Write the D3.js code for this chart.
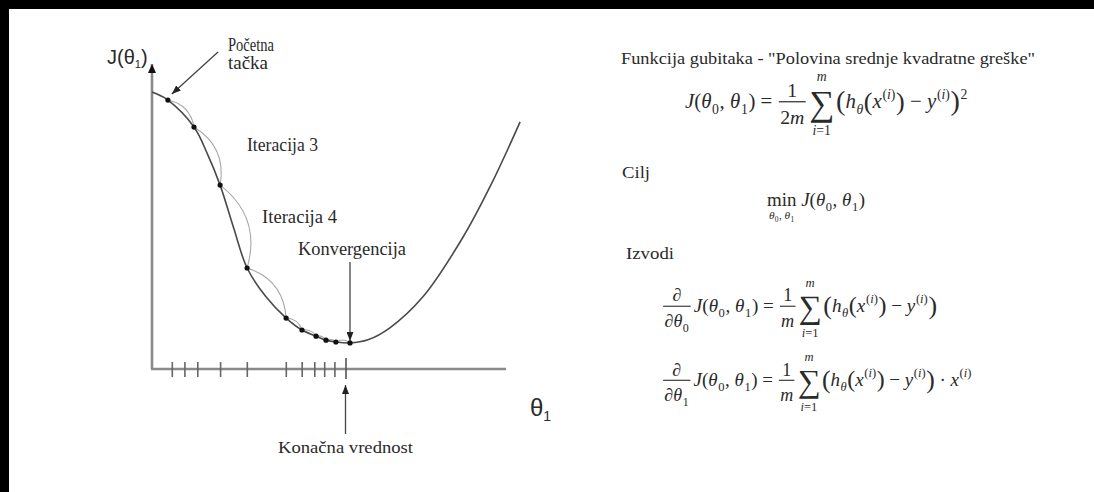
<!DOCTYPE html>
<html>
<head>
<meta charset="utf-8">
<script src="https://cdn.jsdelivr.net/npm/d3@7"></script>
<style>
  html, body { margin: 0; padding: 0; background: #000; }
  svg { display: block; font-family: "Liberation Serif", "Times New Roman", "DejaVu Serif", serif; }
  text { fill: #2a2a2a; white-space: pre; }
</style>
</head>
<body>
<svg id="chart" width="1094" height="492"></svg>
<script>
// Cost curve J(θ1), sampled along θ1
const curveTheta = [0, 0.53, 1.4, 1.85, 2.27, 2.72, 3.17, 3.8, 4.47, 5.0, 5.47, 5.8, 6.13, 6.6, 7.2, 7.93, 9.03, 10.37, 11.33, 12.27];
const curveCost  = [9.02, 8.76, 7.88, 7.0, 5.99, 4.6, 3.29, 2.35, 1.66, 1.27, 1.07, 0.94, 0.88, 0.85, 0.95, 1.34, 2.35, 4.3, 6.06, 8.05];

// Gradient descent iterates
const stepTheta = [0.53, 1.4, 2.27, 3.17, 4.47, 5.0, 5.47, 5.8, 6.13, 6.6];
const stepCost  = [8.76, 7.88, 5.99, 3.29, 1.66, 1.27, 1.07, 0.94, 0.88, 0.85];

// Marks on the θ1 axis, one per iterate; the last is the final value
const tickTheta = [0.66, 1.08, 1.51, 2.27, 3.16, 4.46, 4.99, 5.41, 5.74, 6.08];
const finalTheta = 6.45;

// Annotations
const labelStart = ["Početna", "tačka"];
const labelIter = ["Iteracija 3", "Iteracija 4"];
const labelConv = "Konvergencija";
const labelFinal = "Konačna vrednost";

const SERIF = "'Liberation Serif', 'Times New Roman', serif";
const SANS = "'Liberation Sans', Arial, sans-serif";

const svg = d3.select("#chart");
svg.append("rect").attr("x", 9).attr("y", 9).attr("width", 1094).attr("height", 492).attr("fill", "#fff");

const x = d3.scaleLinear().domain([0, 12]).range([152, 512]);
const y = d3.scaleLinear().domain([0, 10]).range([369, 62]);

const defs = svg.append("defs");
function marker(id, color, w, h) {
  defs.append("marker").attr("id", id)
    .attr("viewBox", `0 0 ${w} ${h}`).attr("refX", w).attr("refY", h / 2)
    .attr("markerWidth", w).attr("markerHeight", h).attr("markerUnits", "userSpaceOnUse")
    .attr("orient", "auto")
    .append("path").attr("d", `M0,0L${w},${h / 2}L0,${h}Z`).attr("fill", color);
}
marker("ah", "#222", 9, 7);
marker("ahAxis", "#111", 9, 8);

const plot = svg.append("g");

// axes
plot.append("line").attr("x1", x(0)).attr("y1", y(0)).attr("x2", x(0)).attr("y2", 64)
  .attr("stroke", "#8a8a8a").attr("stroke-width", 2.6).attr("marker-end", "url(#ahAxis)");
plot.append("line").attr("x1", x(0) - 1).attr("y1", y(0)).attr("x2", x(11.8)).attr("y2", y(0))
  .attr("stroke", "#8a8a8a").attr("stroke-width", 2.6);

// iteration ticks along θ1
const tickAxis = d3.axisBottom(x).tickValues(tickTheta).tickSize(15).tickFormat("");
const tg = plot.append("g").attr("transform", `translate(0,${y(0) - 7})`).call(tickAxis);
tg.select(".domain").remove();
tg.selectAll(".tick line").attr("stroke", "#666").attr("stroke-width", 1.6);

const finalAxis = d3.axisBottom(x).tickValues([finalTheta]).tickSize(21).tickFormat("");
const fg = plot.append("g").attr("transform", `translate(0,${y(0) - 11})`).call(finalAxis);
fg.select(".domain").remove();
fg.selectAll(".tick line").attr("stroke", "#555").attr("stroke-width", 1.6);

// step arcs between successive iterates
const steps = stepTheta.map((t, i) => [x(t), y(stepCost[i])]);
const arcs = [];
for (let i = 0; i < steps.length - 1; i++) {
  const [x0, y0] = steps[i], [x1, y1] = steps[i + 1];
  const dx = x1 - x0, dy = y1 - y0, L = Math.hypot(dx, dy);
  const b = 0.17 * L;
  const cx = (x0 + x1) / 2 + dy / L * 2 * b, cy = (y0 + y1) / 2 - dx / L * 2 * b;
  arcs.push(`M${x0},${y0}Q${cx},${cy} ${x1},${y1}`);
}
plot.selectAll("path.arc").data(arcs).join("path").attr("class", "arc")
  .attr("d", d => d).attr("fill", "none").attr("stroke", "#a8a8a8").attr("stroke-width", 1.1);

// cost curve
const line = d3.line().x(d => x(d[0])).y(d => y(d[1])).curve(d3.curveCatmullRom.alpha(0.5));
plot.append("path").datum(curveTheta.map((t, i) => [t, curveCost[i]]))
  .attr("d", line).attr("fill", "none").attr("stroke", "#4a4a4a").attr("stroke-width", 1.6);

// iterates
plot.selectAll("circle.step").data(steps).join("circle").attr("class", "step")
  .attr("cx", d => d[0]).attr("cy", d => d[1]).attr("r", 2.6).attr("fill", "#111");

// annotation arrows
function arrow(x1, y1, x2, y2) {
  plot.append("line").attr("x1", x1).attr("y1", y1).attr("x2", x2).attr("y2", y2)
    .attr("stroke", "#444").attr("stroke-width", 1.3).attr("marker-end", "url(#ah)");
}
arrow(218, 52, x(stepTheta[0]) + 4, y(stepCost[0]) - 6);
const last = stepTheta.length - 1;
arrow(x(stepTheta[last]), 262, x(stepTheta[last]), y(stepCost[last]) - 2);
arrow(x(finalTheta), 434, x(finalTheta), 385);

// labels
function label(s, x0, base, size, width) {
  const t = plot.append("text").attr("x", x0).attr("y", base)
    .attr("font-family", SERIF).attr("font-size", size).text(s);
  if (width) t.attr("textLength", width).attr("lengthAdjust", "spacingAndGlyphs");
  return t;
}
label(labelStart[0], 228, 51, 18, 46);
label(labelStart[1], 228, 69, 18, 40);
label(labelIter[0], 247, 151, 18, 71);
label(labelIter[1], 262, 223, 18, 75);
label(labelConv, 298, 255, 18.5, 108);
label(labelFinal, 278, 453, 17, 135);

// axis titles
const jt = plot.append("text").attr("x", 107).attr("y", 64).attr("font-family", SANS).attr("font-size", 20);
jt.append("tspan").text("J(θ");
jt.append("tspan").attr("font-size", 11).attr("dy", 4).text("1");
jt.append("tspan").attr("dy", -4).text(")");
const tt = plot.append("text").attr("x", 530).attr("y", 416).attr("font-family", SANS).attr("font-size", 24);
tt.append("tspan").text("θ");
tt.append("tspan").attr("font-size", 14).attr("dy", 5).text("1");

// ---------- formulas panel ----------
const panel = svg.append("g").attr("font-family", SERIF);

panel.append("text").attr("x", 621).attr("y", 64).attr("font-size", 17)
  .attr("textLength", 414).attr("lengthAdjust", "spacingAndGlyphs")
  .text('Funkcija gubitaka - "Polovina srednje kvadratne greške"');
panel.append("text").attr("x", 622).attr("y", 178).attr("font-size", 16.5)
  .attr("textLength", 28).attr("lengthAdjust", "spacingAndGlyphs").text("Cilj");
panel.append("text").attr("x", 626).attr("y", 259).attr("font-size", 16.5)
  .attr("textLength", 48).attr("lengthAdjust", "spacingAndGlyphs").text("Izvodi");

// tiny math layout: items are [kind, ...]
function word(g, s, fs, italic) {
  const t = g.append("text").attr("x", 0).attr("y", 0).attr("font-size", fs)
    .attr("font-style", italic ? "italic" : "normal").text(s);
  return t.node().getComputedTextLength();
}
function row(g, items, fs) {
  let cx = 0;
  for (const it of items) {
    const sub = g.append("g").attr("transform", `translate(${cx},0)`);
    cx += cell(sub, it, fs);
  }
  return cx;
}
function cell(g, it, fs) {
  const k = it[0];
  if (k === "i" || k === "n") return word(g, it[1], fs, k === "i");
  if (k === "sp") return it[1] * fs;
  if (k === "big") {
    const s = fs * it[2];
    const t = g.append("text").attr("y", fs * (it[2] - 1) * 0.3).attr("font-size", s).text(it[1]);
    return t.node().getComputedTextLength();
  }
  if (k === "sub" || k === "sup") {
    const gg = g.append("g").attr("transform", `translate(${fs * 0.03},${k === "sub" ? fs * 0.28 : -fs * 0.45})`);
    return row(gg, it[1], fs * 0.66) + fs * 0.06;
  }
  if (k === "frac") {
    const s = fs * 0.95;
    const gn = g.append("g"), gd = g.append("g");
    const wn = row(gn, it[1], s), wd = row(gd, it[2], s);
    const w = Math.max(wn, wd) + fs * 0.25;
    gn.attr("transform", `translate(${(w - wn) / 2},${-fs * 0.55})`);
    gd.attr("transform", `translate(${(w - wd) / 2},${fs * 0.78})`);
    g.append("line").attr("x1", fs * 0.06).attr("x2", w - fs * 0.06)
      .attr("y1", -fs * 0.3).attr("y2", -fs * 0.3).attr("stroke", "#333").attr("stroke-width", 0.9);
    return w + fs * 0.1;
  }
  if (k === "sum") {
    const sg = g.append("text").attr("y", fs * 0.32).attr("font-size", fs * 1.7).text("∑");
    const w = sg.node().getComputedTextLength();
    if (it[1]) {
      const gt = g.append("g");
      const wt = row(gt, it[1], fs * 0.66);
      gt.attr("transform", `translate(${(w - wt) / 2},${-fs * 1.3})`);
    }
    const gb = g.append("g");
    const wb = row(gb, it[2], fs * 0.66);
    gb.attr("transform", `translate(${(w - wb) / 2},${fs * 1.3})`);
    return w + fs * 0.08;
  }
  if (k === "under") {
    const gt = g.append("g"), gb = g.append("g");
    const wt = row(gt, it[1], fs), wb = row(gb, it[2], fs * 0.6);
    const w = Math.max(wt, wb);
    gt.attr("transform", `translate(${(w - wt) / 2},0)`);
    gb.attr("transform", `translate(${(w - wb) / 2},${fs * 0.7})`);
    return w + fs * 0.25;
  }
  return 0;
}
function formula(items, fs, left, base, width) {
  const g = panel.append("g");
  const inner = g.append("g");
  const w = row(inner, items, fs);
  const k = width / w;
  g.attr("transform", `translate(${left},${base}) scale(${k})`);
  return g;
}

const th = (n) => [["i", "θ"], ["sub", [["n", n]]]];
const Jargs = [["i", "J"], ["n", "("], ...th("0"), ["n", ", "], ...th("1"), ["n", ")"]];
const sup_i = ["sup", [["n", "("], ["i", "i"], ["n", ")"]]];
const hx = [["i", "h"], ["sub", [["i", "θ"]]], ["big", "(", 1.25], ["i", "x"], sup_i, ["big", ")", 1.25],
  ["n", " − "], ["i", "y"], sup_i];
const sumM = ["sum", [["i", "m"]], [["i", "i"], ["n", "=1"]]];

formula([...Jargs, ["n", " = "], ["frac", [["n", "1"]], [["n", "2"], ["i", "m"]]], sumM,
  ["big", "(", 1.35], ...hx, ["big", ")", 1.35], ["sup", [["n", "2"]]]], 15, 685, 108, 283);

formula([["under", [["n", "min"]], [...th("0"), ["n", ", "], ...th("1")]], ...Jargs], 15, 767, 206, 98);

formula([["frac", [["n", "∂"]], [["n", "∂"], ...th("0")]], ...Jargs, ["n", " = "],
  ["frac", [["n", "1"]], [["i", "m"]]], sumM, ["big", "(", 1.35], ...hx, ["big", ")", 1.35]], 15, 662, 312, 275);

formula([["frac", [["n", "∂"]], [["n", "∂"], ...th("1")]], ...Jargs, ["n", " = "],
  ["frac", [["n", "1"]], [["i", "m"]]], sumM, ["big", "(", 1.35], ...hx, ["big", ")", 1.35],
  ["n", " · "], ["i", "x"], sup_i], 15, 662, 386, 310);
</script>
</body>
</html>
